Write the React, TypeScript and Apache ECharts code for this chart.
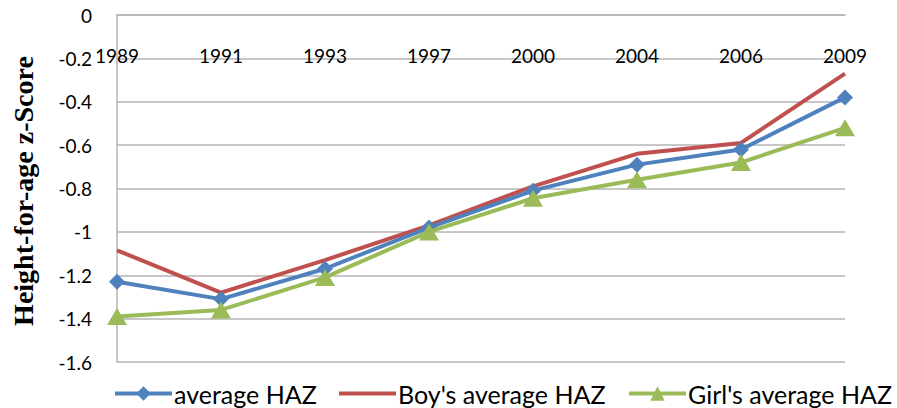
import React, { useEffect, useRef } from "react";
import * as echarts from "echarts";

const years = ["1989", "1991", "1993", "1997", "2000", "2004", "2006", "2009"];
const averageHAZ = [-1.23, -1.31, -1.17, -0.98, -0.81, -0.69, -0.62, -0.38];
const boysHAZ = [-1.085, -1.28, -1.13, -0.97, -0.79, -0.64, -0.59, -0.27];
const girlsHAZ = [-1.39, -1.36, -1.21, -1.0, -0.845, -0.76, -0.68, -0.52];
const seriesNames = ["average HAZ", "Boy's average HAZ", "Girl's average HAZ"];
const yTitle = "Height-for-age z-Score";

const BLUE = "#4F81BD";
const RED = "#C0504D";
const GREEN = "#9BBB59";
const FONT = "Lato";

export default function App() {
  const ref = useRef<HTMLDivElement>(null);
  useEffect(() => {
    if (!ref.current) return;
    const chart = echarts.init(ref.current, null, { renderer: "svg" });
    const legendBase = {
      top: 381,
      itemWidth: 57,
      itemHeight: 18,
      itemGap: 0,
      lineStyle: { width: 4 },
      textStyle: { fontFamily: FONT, fontSize: 25, color: "#000", padding: [0, 0, 0, -3] },
      padding: 0,
    };
    chart.setOption({
      animation: false,
      backgroundColor: "#fff",
      grid: { left: 117, right: 52, top: 15, bottom: 46, containLabel: false },
      legend: [
        { ...legendBase, left: 113, data: [seriesNames[0]] },
        {
          ...legendBase,
          left: 337,
          data: [seriesNames[1]],
          itemStyle: { color: "rgba(0,0,0,0)", borderColor: "rgba(0,0,0,0)", opacity: 0 },
        },
        { ...legendBase, left: 627, data: [seriesNames[2]] },
      ],
      xAxis: {
        type: "category",
        data: years,
        position: "top",
        boundaryGap: false,
        axisLine: { onZero: false, lineStyle: { color: "#B4B4B4", width: 1.5 } },
        axisTick: { show: false },
        axisLabel: {
          inside: true,
          margin: 31,
          fontFamily: FONT,
          fontSize: 19,
          color: "#000",
          interval: 0,
        },
        splitLine: { show: false },
      },
      yAxis: {
        type: "value",
        min: -1.6,
        max: 0,
        interval: 0.2,
        axisLine: { show: true, lineStyle: { color: "#B4B4B4", width: 1.5 } },
        axisTick: { show: false },
        axisLabel: {
          margin: 25,
          fontFamily: FONT,
          fontSize: 19,
          color: "#000",
          formatter: (v: number) => String(Math.round(v * 10) / 10),
        },
        splitLine: { lineStyle: { color: "#B4B4B4", width: 1.5 } },
      },
      graphic: [
        {
          type: "text",
          x: 23,
          y: 191,
          rotation: Math.PI / 2,
          style: {
            text: yTitle,
            font: "bold 28px 'Liberation Serif'",
            fill: "#000",
            textAlign: "center",
            textVerticalAlign: "middle",
          },
        },
      ],
      series: [
        {
          name: seriesNames[1],
          type: "line",
          data: boysHAZ,
          symbol: "none",
          lineStyle: { color: RED, width: 4 },
          itemStyle: { color: RED },
          z: 2,
        },
        {
          name: seriesNames[0],
          type: "line",
          data: averageHAZ,
          symbol: "diamond",
          symbolSize: 16,
          lineStyle: { color: BLUE, width: 4 },
          itemStyle: { color: BLUE },
          z: 3,
        },
        {
          name: seriesNames[2],
          type: "line",
          data: girlsHAZ,
          symbol: "triangle",
          symbolSize: [20, 17],
          lineStyle: { color: GREEN, width: 4 },
          itemStyle: { color: GREEN },
          z: 4,
        },
      ],
    });
    return () => chart.dispose();
  }, []);
  return <div ref={ref} style={{ width: 897, height: 408, position: "absolute", left: 0, top: 0 }} />;
}
